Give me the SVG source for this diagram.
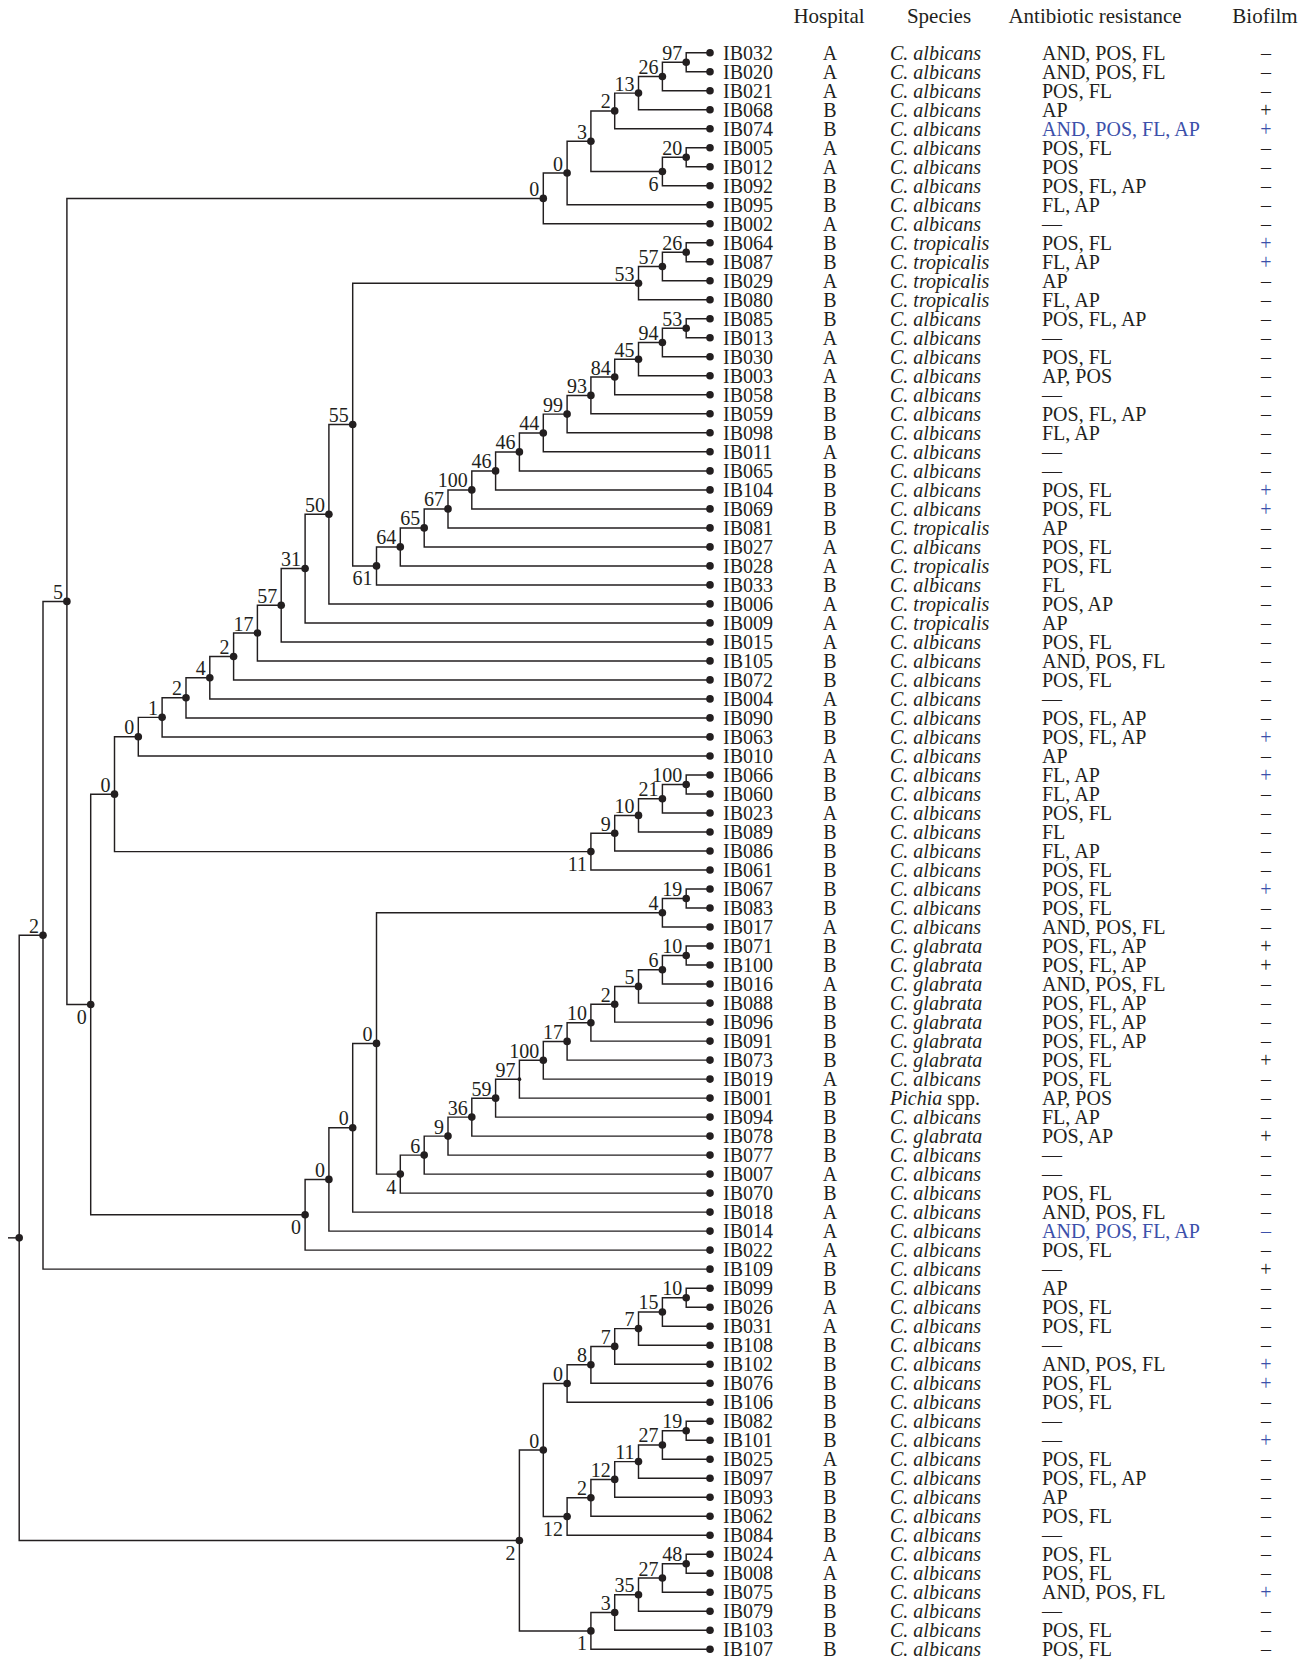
<svg xmlns="http://www.w3.org/2000/svg" width="1309" height="1661" viewBox="0 0 1309 1661">
<style>
text{font-family:"Liberation Serif","Times New Roman",serif;fill:#231f20}
.r text{font-size:20px}
.m{text-anchor:middle}
.i{font-style:italic}
.r text.b,.b{fill:#3c50aa}
.nl{font-size:20px;text-anchor:end}
.hd{font-size:21px;text-anchor:middle}
#connectors path{fill:none;stroke:#231f20;stroke-width:1.45}
circle{fill:#231f20}
</style>
<rect width="1309" height="1661" fill="#ffffff"/>
<g id="header">
<text class="hd" x="829" y="23">Hospital</text>
<text class="hd" x="939" y="23">Species</text>
<text class="hd" x="1095" y="23">Antibiotic resistance</text>
<text class="hd" x="1265" y="23">Biofilm</text>
</g>
<g id="connectors">
<path d="M710 52.7H686.2V71.7H710"/>
<path d="M686.2 62.2H662.4V90.7H710"/>
<path d="M662.4 76.45H638.5V109.7H710"/>
<path d="M638.5 93.1H614.7V128.7H710"/>
<path d="M710 147.7H686.2V166.7H710"/>
<path d="M686.2 157.2H662.4V185.7H710"/>
<path d="M614.7 110.9H590.9V171.45H662.4"/>
<path d="M590.9 141.2H567.1V204.8H710"/>
<path d="M567.1 173H543.3V223.8H710"/>
<path d="M710 242.8H686.2V261.8H710"/>
<path d="M686.2 252.3H662.4V280.8H710"/>
<path d="M662.4 266.55H638.5V299.8H710"/>
<path d="M710 318.8H686.2V337.8H710"/>
<path d="M686.2 328.3H662.4V356.8H710"/>
<path d="M662.4 342.55H638.5V375.8H710"/>
<path d="M638.5 359.2H614.7V394.8H710"/>
<path d="M614.7 377H590.9V413.8H710"/>
<path d="M590.9 395.4H567.1V432.8H710"/>
<path d="M567.1 414.1H543.3V451.8H710"/>
<path d="M543.3 432.95H519.4V470.9H710"/>
<path d="M519.4 451.9H495.6V489.9H710"/>
<path d="M495.6 470.9H471.8V508.9H710"/>
<path d="M471.8 489.9H448V527.9H710"/>
<path d="M448 508.9H424.2V546.9H710"/>
<path d="M424.2 527.9H400.3V565.9H710"/>
<path d="M400.3 546.9H376.5V584.9H710"/>
<path d="M638.5 283.2H352.7V565.9H376.5"/>
<path d="M352.7 424.55H328.9V603.9H710"/>
<path d="M328.9 514.2H305.1V622.9H710"/>
<path d="M305.1 568.55H281.2V641.9H710"/>
<path d="M281.2 605.2H257.4V660.9H710"/>
<path d="M257.4 633.05H233.6V679.9H710"/>
<path d="M233.6 656.5H209.8V698.9H710"/>
<path d="M209.8 677.7H186V717.9H710"/>
<path d="M186 697.8H162.1V736.9H710"/>
<path d="M162.1 717.35H138.3V756H710"/>
<path d="M710 775H686.2V794H710"/>
<path d="M686.2 784.5H662.4V813H710"/>
<path d="M662.4 798.75H638.5V832H710"/>
<path d="M638.5 815.4H614.7V851H710"/>
<path d="M614.7 833.2H590.9V870H710"/>
<path d="M138.3 736.7H114.5V851.6H590.9"/>
<path d="M710 889H686.2V908H710"/>
<path d="M686.2 898.5H662.4V927H710"/>
<path d="M710 946H686.2V965H710"/>
<path d="M686.2 955.5H662.4V984H710"/>
<path d="M662.4 969.75H638.5V1003.1H710"/>
<path d="M638.5 986.4H614.7V1022.1H710"/>
<path d="M614.7 1004.25H590.9V1041.1H710"/>
<path d="M590.9 1022.7H567.1V1060.1H710"/>
<path d="M567.1 1041.4H543.3V1079.1H710"/>
<path d="M543.3 1060.25H519.4V1098.1H710"/>
<path d="M519.4 1079.2H495.6V1117.1H710"/>
<path d="M495.6 1098.15H471.8V1136.1H710"/>
<path d="M471.8 1117.1H448V1155.1H710"/>
<path d="M448 1136.1H424.2V1174.1H710"/>
<path d="M424.2 1155.1H400.3V1193.1H710"/>
<path d="M662.4 912.75H376.5V1174.1H400.3"/>
<path d="M376.5 1043.4H352.7V1212.1H710"/>
<path d="M352.7 1127.75H328.9V1231.1H710"/>
<path d="M328.9 1179.4H305.1V1250.1H710"/>
<path d="M114.5 794.15H90.7V1214.75H305.1"/>
<path d="M543.3 198.4H66.9V1004.45H90.7"/>
<path d="M66.9 601.4H43V1269.1H710"/>
<path d="M710 1288.2H686.2V1307.2H710"/>
<path d="M686.2 1297.7H662.4V1326.2H710"/>
<path d="M662.4 1311.95H638.5V1345.2H710"/>
<path d="M638.5 1328.6H614.7V1364.2H710"/>
<path d="M614.7 1346.4H590.9V1383.2H710"/>
<path d="M590.9 1364.8H567.1V1402.2H710"/>
<path d="M710 1421.2H686.2V1440.2H710"/>
<path d="M686.2 1430.7H662.4V1459.2H710"/>
<path d="M662.4 1444.95H638.5V1478.2H710"/>
<path d="M638.5 1461.6H614.7V1497.2H710"/>
<path d="M614.7 1479.4H590.9V1516.2H710"/>
<path d="M590.9 1497.8H567.1V1535.2H710"/>
<path d="M567.1 1383.5H543.3V1516.5H567.1"/>
<path d="M710 1554.3H686.2V1573.3H710"/>
<path d="M686.2 1563.8H662.4V1592.3H710"/>
<path d="M662.4 1578.05H638.5V1611.3H710"/>
<path d="M638.5 1594.7H614.7V1630.3H710"/>
<path d="M614.7 1612.5H590.9V1649.3H710"/>
<path d="M543.3 1450H519.4V1630.9H590.9"/>
<path d="M43 935.25H19.2V1540.45H519.4"/>
<path d="M8 1237.85H19.2"/>
</g>
<g id="internal-nodes">
<g id="n97a"><circle cx="686.2" cy="62.2" r="3.8"/><text class="nl" x="682.2" y="59.7">97</text></g>
<g id="n26a"><circle cx="662.4" cy="76.45" r="3.8"/><text class="nl" x="658.4" y="73.95">26</text></g>
<g id="n13a"><circle cx="638.5" cy="93.1" r="3.8"/><text class="nl" x="634.5" y="90.6">13</text></g>
<g id="n2a"><circle cx="614.7" cy="110.9" r="3.8"/><text class="nl" x="610.7" y="108.4">2</text></g>
<g id="n20a"><circle cx="686.2" cy="157.2" r="3.8"/><text class="nl" x="682.2" y="154.7">20</text></g>
<g id="n6a"><circle cx="662.4" cy="171.45" r="3.8"/><text class="nl" x="658.4" y="190.95">6</text></g>
<g id="n3a"><circle cx="590.9" cy="141.2" r="3.8"/><text class="nl" x="586.9" y="138.7">3</text></g>
<g id="n0b"><circle cx="567.1" cy="173" r="3.8"/><text class="nl" x="563.1" y="170.5">0</text></g>
<g id="n0a"><circle cx="543.3" cy="198.4" r="3.8"/><text class="nl" x="539.3" y="195.9">0</text></g>
<g id="n26t"><circle cx="686.2" cy="252.3" r="3.8"/><text class="nl" x="682.2" y="249.8">26</text></g>
<g id="n57t"><circle cx="662.4" cy="266.55" r="3.8"/><text class="nl" x="658.4" y="264.05">57</text></g>
<g id="n53t"><circle cx="638.5" cy="283.2" r="3.8"/><text class="nl" x="634.5" y="280.7">53</text></g>
<g id="n53c"><circle cx="686.2" cy="328.3" r="3.8"/><text class="nl" x="682.2" y="325.8">53</text></g>
<g id="n94"><circle cx="662.4" cy="342.55" r="3.8"/><text class="nl" x="658.4" y="340.05">94</text></g>
<g id="n45"><circle cx="638.5" cy="359.2" r="3.8"/><text class="nl" x="634.5" y="356.7">45</text></g>
<g id="n84"><circle cx="614.7" cy="377" r="3.8"/><text class="nl" x="610.7" y="374.5">84</text></g>
<g id="n93"><circle cx="590.9" cy="395.4" r="3.8"/><text class="nl" x="586.9" y="392.9">93</text></g>
<g id="n99"><circle cx="567.1" cy="414.1" r="3.8"/><text class="nl" x="563.1" y="411.6">99</text></g>
<g id="n44"><circle cx="543.3" cy="432.95" r="3.8"/><text class="nl" x="539.3" y="430.45">44</text></g>
<g id="n46a"><circle cx="519.4" cy="451.9" r="3.8"/><text class="nl" x="515.4" y="449.4">46</text></g>
<g id="n46b"><circle cx="495.6" cy="470.9" r="3.8"/><text class="nl" x="491.6" y="468.4">46</text></g>
<g id="n100a"><circle cx="471.8" cy="489.9" r="3.8"/><text class="nl" x="467.8" y="487.4">100</text></g>
<g id="n67"><circle cx="448" cy="508.9" r="3.8"/><text class="nl" x="444" y="506.4">67</text></g>
<g id="n65"><circle cx="424.2" cy="527.9" r="3.8"/><text class="nl" x="420.2" y="525.4">65</text></g>
<g id="n64"><circle cx="400.3" cy="546.9" r="3.8"/><text class="nl" x="396.3" y="544.4">64</text></g>
<g id="n61"><circle cx="376.5" cy="565.9" r="3.8"/><text class="nl" x="372.5" y="585.4">61</text></g>
<g id="n55"><circle cx="352.7" cy="424.55" r="3.8"/><text class="nl" x="348.7" y="422.05">55</text></g>
<g id="n50"><circle cx="328.9" cy="514.2" r="3.8"/><text class="nl" x="324.9" y="511.7">50</text></g>
<g id="n31"><circle cx="305.1" cy="568.55" r="3.8"/><text class="nl" x="301.1" y="566.05">31</text></g>
<g id="n57b"><circle cx="281.2" cy="605.2" r="3.8"/><text class="nl" x="277.2" y="602.7">57</text></g>
<g id="n17a"><circle cx="257.4" cy="633.05" r="3.8"/><text class="nl" x="253.4" y="630.55">17</text></g>
<g id="n2b"><circle cx="233.6" cy="656.5" r="3.8"/><text class="nl" x="229.6" y="654">2</text></g>
<g id="n4a"><circle cx="209.8" cy="677.7" r="3.8"/><text class="nl" x="205.8" y="675.2">4</text></g>
<g id="n2c"><circle cx="186" cy="697.8" r="3.8"/><text class="nl" x="182" y="695.3">2</text></g>
<g id="n1a"><circle cx="162.1" cy="717.35" r="3.8"/><text class="nl" x="158.1" y="714.85">1</text></g>
<g id="n0c"><circle cx="138.3" cy="736.7" r="3.8"/><text class="nl" x="134.3" y="734.2">0</text></g>
<g id="n100b"><circle cx="686.2" cy="784.5" r="3.8"/><text class="nl" x="682.2" y="782">100</text></g>
<g id="n21"><circle cx="662.4" cy="798.75" r="3.8"/><text class="nl" x="658.4" y="796.25">21</text></g>
<g id="n10a"><circle cx="638.5" cy="815.4" r="3.8"/><text class="nl" x="634.5" y="812.9">10</text></g>
<g id="n9a"><circle cx="614.7" cy="833.2" r="3.8"/><text class="nl" x="610.7" y="830.7">9</text></g>
<g id="n11a"><circle cx="590.9" cy="851.6" r="3.8"/><text class="nl" x="586.9" y="871.1">11</text></g>
<g id="n0d"><circle cx="114.5" cy="794.15" r="3.8"/><text class="nl" x="110.5" y="791.65">0</text></g>
<g id="n19a"><circle cx="686.2" cy="898.5" r="3.8"/><text class="nl" x="682.2" y="896">19</text></g>
<g id="n4t"><circle cx="662.4" cy="912.75" r="3.8"/><text class="nl" x="658.4" y="910.25">4</text></g>
<g id="n10h"><circle cx="686.2" cy="955.5" r="3.8"/><text class="nl" x="682.2" y="953">10</text></g>
<g id="n6h"><circle cx="662.4" cy="969.75" r="3.8"/><text class="nl" x="658.4" y="967.25">6</text></g>
<g id="n5g"><circle cx="638.5" cy="986.4" r="3.8"/><text class="nl" x="634.5" y="983.9">5</text></g>
<g id="n2g"><circle cx="614.7" cy="1004.25" r="3.8"/><text class="nl" x="610.7" y="1001.75">2</text></g>
<g id="n10g"><circle cx="590.9" cy="1022.7" r="3.8"/><text class="nl" x="586.9" y="1020.2">10</text></g>
<g id="n17g"><circle cx="567.1" cy="1041.4" r="3.8"/><text class="nl" x="563.1" y="1038.9">17</text></g>
<g id="n100g"><circle cx="543.3" cy="1060.25" r="3.8"/><text class="nl" x="539.3" y="1057.75">100</text></g>
<g id="n97g"><circle cx="519.4" cy="1079.2" r="1.9"/><text class="nl" x="515.4" y="1076.7">97</text></g>
<g id="n59"><circle cx="495.6" cy="1098.15" r="3.8"/><text class="nl" x="491.6" y="1095.65">59</text></g>
<g id="n36"><circle cx="471.8" cy="1117.1" r="3.8"/><text class="nl" x="467.8" y="1114.6">36</text></g>
<g id="n9g"><circle cx="448" cy="1136.1" r="3.8"/><text class="nl" x="444" y="1133.6">9</text></g>
<g id="n6g"><circle cx="424.2" cy="1155.1" r="3.8"/><text class="nl" x="420.2" y="1152.6">6</text></g>
<g id="n4b"><circle cx="400.3" cy="1174.1" r="3.8"/><text class="nl" x="396.3" y="1193.6">4</text></g>
<g id="n0m1"><circle cx="376.5" cy="1043.4" r="3.8"/><text class="nl" x="372.5" y="1040.9">0</text></g>
<g id="n0m2"><circle cx="352.7" cy="1127.75" r="3.8"/><text class="nl" x="348.7" y="1125.25">0</text></g>
<g id="n0m3"><circle cx="328.9" cy="1179.4" r="3.8"/><text class="nl" x="324.9" y="1176.9">0</text></g>
<g id="n0m4"><circle cx="305.1" cy="1214.75" r="3.8"/><text class="nl" x="301.1" y="1234.25">0</text></g>
<g id="n0e"><circle cx="90.7" cy="1004.45" r="3.8"/><text class="nl" x="86.7" y="1023.95">0</text></g>
<g id="n5top"><circle cx="66.9" cy="601.4" r="3.8"/><text class="nl" x="62.9" y="598.9">5</text></g>
<g id="n2top"><circle cx="43" cy="935.25" r="3.8"/><text class="nl" x="39" y="932.75">2</text></g>
<g id="n10b"><circle cx="686.2" cy="1297.7" r="3.8"/><text class="nl" x="682.2" y="1295.2">10</text></g>
<g id="n15"><circle cx="662.4" cy="1311.95" r="3.8"/><text class="nl" x="658.4" y="1309.45">15</text></g>
<g id="n7a"><circle cx="638.5" cy="1328.6" r="3.8"/><text class="nl" x="634.5" y="1326.1">7</text></g>
<g id="n7b"><circle cx="614.7" cy="1346.4" r="3.8"/><text class="nl" x="610.7" y="1343.9">7</text></g>
<g id="n8"><circle cx="590.9" cy="1364.8" r="3.8"/><text class="nl" x="586.9" y="1362.3">8</text></g>
<g id="n0f1"><circle cx="567.1" cy="1383.5" r="3.8"/><text class="nl" x="563.1" y="1381">0</text></g>
<g id="n19b"><circle cx="686.2" cy="1430.7" r="3.8"/><text class="nl" x="682.2" y="1428.2">19</text></g>
<g id="n27a"><circle cx="662.4" cy="1444.95" r="3.8"/><text class="nl" x="658.4" y="1442.45">27</text></g>
<g id="n11b"><circle cx="638.5" cy="1461.6" r="3.8"/><text class="nl" x="634.5" y="1459.1">11</text></g>
<g id="n12a"><circle cx="614.7" cy="1479.4" r="3.8"/><text class="nl" x="610.7" y="1476.9">12</text></g>
<g id="n2d"><circle cx="590.9" cy="1497.8" r="3.8"/><text class="nl" x="586.9" y="1495.3">2</text></g>
<g id="n12b"><circle cx="567.1" cy="1516.5" r="3.8"/><text class="nl" x="563.1" y="1536">12</text></g>
<g id="n0f"><circle cx="543.3" cy="1450" r="3.8"/><text class="nl" x="539.3" y="1447.5">0</text></g>
<g id="n48"><circle cx="686.2" cy="1563.8" r="3.8"/><text class="nl" x="682.2" y="1561.3">48</text></g>
<g id="n27b"><circle cx="662.4" cy="1578.05" r="3.8"/><text class="nl" x="658.4" y="1575.55">27</text></g>
<g id="n35"><circle cx="638.5" cy="1594.7" r="3.8"/><text class="nl" x="634.5" y="1592.2">35</text></g>
<g id="n3b"><circle cx="614.7" cy="1612.5" r="3.8"/><text class="nl" x="610.7" y="1610">3</text></g>
<g id="n1b"><circle cx="590.9" cy="1630.9" r="3.8"/><text class="nl" x="586.9" y="1650.4">1</text></g>
<g id="n2bot"><circle cx="519.4" cy="1540.45" r="3.8"/><text class="nl" x="515.4" y="1559.95">2</text></g>
<g id="root"><circle cx="19.2" cy="1237.85" r="3.8"/></g>
</g>
<g id="leaves">
<g id="IB032" class="r" transform="translate(0 59.7)"><circle cx="710" cy="-7" r="3.8"/><text x="723">IB032</text><text class="m" x="830">A</text><text class="i" x="890">C. albicans</text><text x="1042">AND, POS, FL</text><text class="m" x="1266">–</text></g>
<g id="IB020" class="r" transform="translate(0 78.7)"><circle cx="710" cy="-7" r="3.8"/><text x="723">IB020</text><text class="m" x="830">A</text><text class="i" x="890">C. albicans</text><text x="1042">AND, POS, FL</text><text class="m" x="1266">–</text></g>
<g id="IB021" class="r" transform="translate(0 97.7)"><circle cx="710" cy="-7" r="3.8"/><text x="723">IB021</text><text class="m" x="830">A</text><text class="i" x="890">C. albicans</text><text x="1042">POS, FL</text><text class="m" x="1266">–</text></g>
<g id="IB068" class="r" transform="translate(0 116.7)"><circle cx="710" cy="-7" r="3.8"/><text x="723">IB068</text><text class="m" x="830">B</text><text class="i" x="890">C. albicans</text><text x="1042">AP</text><text class="m" x="1266">+</text></g>
<g id="IB074" class="r" transform="translate(0 135.7)"><circle cx="710" cy="-7" r="3.8"/><text x="723">IB074</text><text class="m" x="830">B</text><text class="i" x="890">C. albicans</text><text class="b" x="1042">AND, POS, FL, AP</text><text class="m b" x="1266">+</text></g>
<g id="IB005" class="r" transform="translate(0 154.7)"><circle cx="710" cy="-7" r="3.8"/><text x="723">IB005</text><text class="m" x="830">A</text><text class="i" x="890">C. albicans</text><text x="1042">POS, FL</text><text class="m" x="1266">–</text></g>
<g id="IB012" class="r" transform="translate(0 173.7)"><circle cx="710" cy="-7" r="3.8"/><text x="723">IB012</text><text class="m" x="830">A</text><text class="i" x="890">C. albicans</text><text x="1042">POS</text><text class="m" x="1266">–</text></g>
<g id="IB092" class="r" transform="translate(0 192.7)"><circle cx="710" cy="-7" r="3.8"/><text x="723">IB092</text><text class="m" x="830">B</text><text class="i" x="890">C. albicans</text><text x="1042">POS, FL, AP</text><text class="m" x="1266">–</text></g>
<g id="IB095" class="r" transform="translate(0 211.8)"><circle cx="710" cy="-7" r="3.8"/><text x="723">IB095</text><text class="m" x="830">B</text><text class="i" x="890">C. albicans</text><text x="1042">FL, AP</text><text class="m" x="1266">–</text></g>
<g id="IB002" class="r" transform="translate(0 230.8)"><circle cx="710" cy="-7" r="3.8"/><text x="723">IB002</text><text class="m" x="830">A</text><text class="i" x="890">C. albicans</text><text x="1042">—</text><text class="m" x="1266">–</text></g>
<g id="IB064" class="r" transform="translate(0 249.8)"><circle cx="710" cy="-7" r="3.8"/><text x="723">IB064</text><text class="m" x="830">B</text><text class="i" x="890">C. tropicalis</text><text x="1042">POS, FL</text><text class="m b" x="1266">+</text></g>
<g id="IB087" class="r" transform="translate(0 268.8)"><circle cx="710" cy="-7" r="3.8"/><text x="723">IB087</text><text class="m" x="830">B</text><text class="i" x="890">C. tropicalis</text><text x="1042">FL, AP</text><text class="m b" x="1266">+</text></g>
<g id="IB029" class="r" transform="translate(0 287.8)"><circle cx="710" cy="-7" r="3.8"/><text x="723">IB029</text><text class="m" x="830">A</text><text class="i" x="890">C. tropicalis</text><text x="1042">AP</text><text class="m" x="1266">–</text></g>
<g id="IB080" class="r" transform="translate(0 306.8)"><circle cx="710" cy="-7" r="3.8"/><text x="723">IB080</text><text class="m" x="830">B</text><text class="i" x="890">C. tropicalis</text><text x="1042">FL, AP</text><text class="m" x="1266">–</text></g>
<g id="IB085" class="r" transform="translate(0 325.8)"><circle cx="710" cy="-7" r="3.8"/><text x="723">IB085</text><text class="m" x="830">B</text><text class="i" x="890">C. albicans</text><text x="1042">POS, FL, AP</text><text class="m" x="1266">–</text></g>
<g id="IB013" class="r" transform="translate(0 344.8)"><circle cx="710" cy="-7" r="3.8"/><text x="723">IB013</text><text class="m" x="830">A</text><text class="i" x="890">C. albicans</text><text x="1042">—</text><text class="m" x="1266">–</text></g>
<g id="IB030" class="r" transform="translate(0 363.8)"><circle cx="710" cy="-7" r="3.8"/><text x="723">IB030</text><text class="m" x="830">A</text><text class="i" x="890">C. albicans</text><text x="1042">POS, FL</text><text class="m" x="1266">–</text></g>
<g id="IB003" class="r" transform="translate(0 382.8)"><circle cx="710" cy="-7" r="3.8"/><text x="723">IB003</text><text class="m" x="830">A</text><text class="i" x="890">C. albicans</text><text x="1042">AP, POS</text><text class="m" x="1266">–</text></g>
<g id="IB058" class="r" transform="translate(0 401.8)"><circle cx="710" cy="-7" r="3.8"/><text x="723">IB058</text><text class="m" x="830">B</text><text class="i" x="890">C. albicans</text><text x="1042">—</text><text class="m" x="1266">–</text></g>
<g id="IB059" class="r" transform="translate(0 420.8)"><circle cx="710" cy="-7" r="3.8"/><text x="723">IB059</text><text class="m" x="830">B</text><text class="i" x="890">C. albicans</text><text x="1042">POS, FL, AP</text><text class="m" x="1266">–</text></g>
<g id="IB098" class="r" transform="translate(0 439.8)"><circle cx="710" cy="-7" r="3.8"/><text x="723">IB098</text><text class="m" x="830">B</text><text class="i" x="890">C. albicans</text><text x="1042">FL, AP</text><text class="m" x="1266">–</text></g>
<g id="IB011" class="r" transform="translate(0 458.8)"><circle cx="710" cy="-7" r="3.8"/><text x="723">IB011</text><text class="m" x="830">A</text><text class="i" x="890">C. albicans</text><text x="1042">—</text><text class="m" x="1266">–</text></g>
<g id="IB065" class="r" transform="translate(0 477.9)"><circle cx="710" cy="-7" r="3.8"/><text x="723">IB065</text><text class="m" x="830">B</text><text class="i" x="890">C. albicans</text><text x="1042">—</text><text class="m" x="1266">–</text></g>
<g id="IB104" class="r" transform="translate(0 496.9)"><circle cx="710" cy="-7" r="3.8"/><text x="723">IB104</text><text class="m" x="830">B</text><text class="i" x="890">C. albicans</text><text x="1042">POS, FL</text><text class="m b" x="1266">+</text></g>
<g id="IB069" class="r" transform="translate(0 515.9)"><circle cx="710" cy="-7" r="3.8"/><text x="723">IB069</text><text class="m" x="830">B</text><text class="i" x="890">C. albicans</text><text x="1042">POS, FL</text><text class="m b" x="1266">+</text></g>
<g id="IB081" class="r" transform="translate(0 534.9)"><circle cx="710" cy="-7" r="3.8"/><text x="723">IB081</text><text class="m" x="830">B</text><text class="i" x="890">C. tropicalis</text><text x="1042">AP</text><text class="m" x="1266">–</text></g>
<g id="IB027" class="r" transform="translate(0 553.9)"><circle cx="710" cy="-7" r="3.8"/><text x="723">IB027</text><text class="m" x="830">A</text><text class="i" x="890">C. albicans</text><text x="1042">POS, FL</text><text class="m" x="1266">–</text></g>
<g id="IB028" class="r" transform="translate(0 572.9)"><circle cx="710" cy="-7" r="3.8"/><text x="723">IB028</text><text class="m" x="830">A</text><text class="i" x="890">C. tropicalis</text><text x="1042">POS, FL</text><text class="m" x="1266">–</text></g>
<g id="IB033" class="r" transform="translate(0 591.9)"><circle cx="710" cy="-7" r="3.8"/><text x="723">IB033</text><text class="m" x="830">B</text><text class="i" x="890">C. albicans</text><text x="1042">FL</text><text class="m" x="1266">–</text></g>
<g id="IB006" class="r" transform="translate(0 610.9)"><circle cx="710" cy="-7" r="3.8"/><text x="723">IB006</text><text class="m" x="830">A</text><text class="i" x="890">C. tropicalis</text><text x="1042">POS, AP</text><text class="m" x="1266">–</text></g>
<g id="IB009" class="r" transform="translate(0 629.9)"><circle cx="710" cy="-7" r="3.8"/><text x="723">IB009</text><text class="m" x="830">A</text><text class="i" x="890">C. tropicalis</text><text x="1042">AP</text><text class="m" x="1266">–</text></g>
<g id="IB015" class="r" transform="translate(0 648.9)"><circle cx="710" cy="-7" r="3.8"/><text x="723">IB015</text><text class="m" x="830">A</text><text class="i" x="890">C. albicans</text><text x="1042">POS, FL</text><text class="m" x="1266">–</text></g>
<g id="IB105" class="r" transform="translate(0 667.9)"><circle cx="710" cy="-7" r="3.8"/><text x="723">IB105</text><text class="m" x="830">B</text><text class="i" x="890">C. albicans</text><text x="1042">AND, POS, FL</text><text class="m" x="1266">–</text></g>
<g id="IB072" class="r" transform="translate(0 686.9)"><circle cx="710" cy="-7" r="3.8"/><text x="723">IB072</text><text class="m" x="830">B</text><text class="i" x="890">C. albicans</text><text x="1042">POS, FL</text><text class="m" x="1266">–</text></g>
<g id="IB004" class="r" transform="translate(0 705.9)"><circle cx="710" cy="-7" r="3.8"/><text x="723">IB004</text><text class="m" x="830">A</text><text class="i" x="890">C. albicans</text><text x="1042">—</text><text class="m" x="1266">–</text></g>
<g id="IB090" class="r" transform="translate(0 724.9)"><circle cx="710" cy="-7" r="3.8"/><text x="723">IB090</text><text class="m" x="830">B</text><text class="i" x="890">C. albicans</text><text x="1042">POS, FL, AP</text><text class="m" x="1266">–</text></g>
<g id="IB063" class="r" transform="translate(0 743.9)"><circle cx="710" cy="-7" r="3.8"/><text x="723">IB063</text><text class="m" x="830">B</text><text class="i" x="890">C. albicans</text><text x="1042">POS, FL, AP</text><text class="m b" x="1266">+</text></g>
<g id="IB010" class="r" transform="translate(0 763)"><circle cx="710" cy="-7" r="3.8"/><text x="723">IB010</text><text class="m" x="830">A</text><text class="i" x="890">C. albicans</text><text x="1042">AP</text><text class="m" x="1266">–</text></g>
<g id="IB066" class="r" transform="translate(0 782)"><circle cx="710" cy="-7" r="3.8"/><text x="723">IB066</text><text class="m" x="830">B</text><text class="i" x="890">C. albicans</text><text x="1042">FL, AP</text><text class="m b" x="1266">+</text></g>
<g id="IB060" class="r" transform="translate(0 801)"><circle cx="710" cy="-7" r="3.8"/><text x="723">IB060</text><text class="m" x="830">B</text><text class="i" x="890">C. albicans</text><text x="1042">FL, AP</text><text class="m" x="1266">–</text></g>
<g id="IB023" class="r" transform="translate(0 820)"><circle cx="710" cy="-7" r="3.8"/><text x="723">IB023</text><text class="m" x="830">A</text><text class="i" x="890">C. albicans</text><text x="1042">POS, FL</text><text class="m" x="1266">–</text></g>
<g id="IB089" class="r" transform="translate(0 839)"><circle cx="710" cy="-7" r="3.8"/><text x="723">IB089</text><text class="m" x="830">B</text><text class="i" x="890">C. albicans</text><text x="1042">FL</text><text class="m" x="1266">–</text></g>
<g id="IB086" class="r" transform="translate(0 858)"><circle cx="710" cy="-7" r="3.8"/><text x="723">IB086</text><text class="m" x="830">B</text><text class="i" x="890">C. albicans</text><text x="1042">FL, AP</text><text class="m" x="1266">–</text></g>
<g id="IB061" class="r" transform="translate(0 877)"><circle cx="710" cy="-7" r="3.8"/><text x="723">IB061</text><text class="m" x="830">B</text><text class="i" x="890">C. albicans</text><text x="1042">POS, FL</text><text class="m" x="1266">–</text></g>
<g id="IB067" class="r" transform="translate(0 896)"><circle cx="710" cy="-7" r="3.8"/><text x="723">IB067</text><text class="m" x="830">B</text><text class="i" x="890">C. albicans</text><text x="1042">POS, FL</text><text class="m b" x="1266">+</text></g>
<g id="IB083" class="r" transform="translate(0 915)"><circle cx="710" cy="-7" r="3.8"/><text x="723">IB083</text><text class="m" x="830">B</text><text class="i" x="890">C. albicans</text><text x="1042">POS, FL</text><text class="m" x="1266">–</text></g>
<g id="IB017" class="r" transform="translate(0 934)"><circle cx="710" cy="-7" r="3.8"/><text x="723">IB017</text><text class="m" x="830">A</text><text class="i" x="890">C. albicans</text><text x="1042">AND, POS, FL</text><text class="m" x="1266">–</text></g>
<g id="IB071" class="r" transform="translate(0 953)"><circle cx="710" cy="-7" r="3.8"/><text x="723">IB071</text><text class="m" x="830">B</text><text class="i" x="890">C. glabrata</text><text x="1042">POS, FL, AP</text><text class="m" x="1266">+</text></g>
<g id="IB100" class="r" transform="translate(0 972)"><circle cx="710" cy="-7" r="3.8"/><text x="723">IB100</text><text class="m" x="830">B</text><text class="i" x="890">C. glabrata</text><text x="1042">POS, FL, AP</text><text class="m" x="1266">+</text></g>
<g id="IB016" class="r" transform="translate(0 991)"><circle cx="710" cy="-7" r="3.8"/><text x="723">IB016</text><text class="m" x="830">A</text><text class="i" x="890">C. glabrata</text><text x="1042">AND, POS, FL</text><text class="m" x="1266">–</text></g>
<g id="IB088" class="r" transform="translate(0 1010.1)"><circle cx="710" cy="-7" r="3.8"/><text x="723">IB088</text><text class="m" x="830">B</text><text class="i" x="890">C. glabrata</text><text x="1042">POS, FL, AP</text><text class="m" x="1266">–</text></g>
<g id="IB096" class="r" transform="translate(0 1029.1)"><circle cx="710" cy="-7" r="3.8"/><text x="723">IB096</text><text class="m" x="830">B</text><text class="i" x="890">C. glabrata</text><text x="1042">POS, FL, AP</text><text class="m" x="1266">–</text></g>
<g id="IB091" class="r" transform="translate(0 1048.1)"><circle cx="710" cy="-7" r="3.8"/><text x="723">IB091</text><text class="m" x="830">B</text><text class="i" x="890">C. glabrata</text><text x="1042">POS, FL, AP</text><text class="m" x="1266">–</text></g>
<g id="IB073" class="r" transform="translate(0 1067.1)"><circle cx="710" cy="-7" r="3.8"/><text x="723">IB073</text><text class="m" x="830">B</text><text class="i" x="890">C. glabrata</text><text x="1042">POS, FL</text><text class="m" x="1266">+</text></g>
<g id="IB019" class="r" transform="translate(0 1086.1)"><circle cx="710" cy="-7" r="3.8"/><text x="723">IB019</text><text class="m" x="830">A</text><text class="i" x="890">C. albicans</text><text x="1042">POS, FL</text><text class="m" x="1266">–</text></g>
<g id="IB001" class="r" transform="translate(0 1105.1)"><circle cx="710" cy="-7" r="3.8"/><text x="723">IB001</text><text class="m" x="830">B</text><text x="890"><tspan class="i">Pichia</tspan> spp.</text><text x="1042">AP, POS</text><text class="m" x="1266">–</text></g>
<g id="IB094" class="r" transform="translate(0 1124.1)"><circle cx="710" cy="-7" r="3.8"/><text x="723">IB094</text><text class="m" x="830">B</text><text class="i" x="890">C. albicans</text><text x="1042">FL, AP</text><text class="m" x="1266">–</text></g>
<g id="IB078" class="r" transform="translate(0 1143.1)"><circle cx="710" cy="-7" r="3.8"/><text x="723">IB078</text><text class="m" x="830">B</text><text class="i" x="890">C. glabrata</text><text x="1042">POS, AP</text><text class="m" x="1266">+</text></g>
<g id="IB077" class="r" transform="translate(0 1162.1)"><circle cx="710" cy="-7" r="3.8"/><text x="723">IB077</text><text class="m" x="830">B</text><text class="i" x="890">C. albicans</text><text x="1042">—</text><text class="m" x="1266">–</text></g>
<g id="IB007" class="r" transform="translate(0 1181.1)"><circle cx="710" cy="-7" r="3.8"/><text x="723">IB007</text><text class="m" x="830">A</text><text class="i" x="890">C. albicans</text><text x="1042">—</text><text class="m" x="1266">–</text></g>
<g id="IB070" class="r" transform="translate(0 1200.1)"><circle cx="710" cy="-7" r="3.8"/><text x="723">IB070</text><text class="m" x="830">B</text><text class="i" x="890">C. albicans</text><text x="1042">POS, FL</text><text class="m" x="1266">–</text></g>
<g id="IB018" class="r" transform="translate(0 1219.1)"><circle cx="710" cy="-7" r="3.8"/><text x="723">IB018</text><text class="m" x="830">A</text><text class="i" x="890">C. albicans</text><text x="1042">AND, POS, FL</text><text class="m" x="1266">–</text></g>
<g id="IB014" class="r" transform="translate(0 1238.1)"><circle cx="710" cy="-7" r="3.8"/><text x="723">IB014</text><text class="m" x="830">A</text><text class="i" x="890">C. albicans</text><text class="b" x="1042">AND, POS, FL, AP</text><text class="m b" x="1266">–</text></g>
<g id="IB022" class="r" transform="translate(0 1257.1)"><circle cx="710" cy="-7" r="3.8"/><text x="723">IB022</text><text class="m" x="830">A</text><text class="i" x="890">C. albicans</text><text x="1042">POS, FL</text><text class="m" x="1266">–</text></g>
<g id="IB109" class="r" transform="translate(0 1276.1)"><circle cx="710" cy="-7" r="3.8"/><text x="723">IB109</text><text class="m" x="830">B</text><text class="i" x="890">C. albicans</text><text x="1042">—</text><text class="m" x="1266">+</text></g>
<g id="IB099" class="r" transform="translate(0 1295.2)"><circle cx="710" cy="-7" r="3.8"/><text x="723">IB099</text><text class="m" x="830">B</text><text class="i" x="890">C. albicans</text><text x="1042">AP</text><text class="m" x="1266">–</text></g>
<g id="IB026" class="r" transform="translate(0 1314.2)"><circle cx="710" cy="-7" r="3.8"/><text x="723">IB026</text><text class="m" x="830">A</text><text class="i" x="890">C. albicans</text><text x="1042">POS, FL</text><text class="m" x="1266">–</text></g>
<g id="IB031" class="r" transform="translate(0 1333.2)"><circle cx="710" cy="-7" r="3.8"/><text x="723">IB031</text><text class="m" x="830">A</text><text class="i" x="890">C. albicans</text><text x="1042">POS, FL</text><text class="m" x="1266">–</text></g>
<g id="IB108" class="r" transform="translate(0 1352.2)"><circle cx="710" cy="-7" r="3.8"/><text x="723">IB108</text><text class="m" x="830">B</text><text class="i" x="890">C. albicans</text><text x="1042">—</text><text class="m" x="1266">–</text></g>
<g id="IB102" class="r" transform="translate(0 1371.2)"><circle cx="710" cy="-7" r="3.8"/><text x="723">IB102</text><text class="m" x="830">B</text><text class="i" x="890">C. albicans</text><text x="1042">AND, POS, FL</text><text class="m b" x="1266">+</text></g>
<g id="IB076" class="r" transform="translate(0 1390.2)"><circle cx="710" cy="-7" r="3.8"/><text x="723">IB076</text><text class="m" x="830">B</text><text class="i" x="890">C. albicans</text><text x="1042">POS, FL</text><text class="m b" x="1266">+</text></g>
<g id="IB106" class="r" transform="translate(0 1409.2)"><circle cx="710" cy="-7" r="3.8"/><text x="723">IB106</text><text class="m" x="830">B</text><text class="i" x="890">C. albicans</text><text x="1042">POS, FL</text><text class="m" x="1266">–</text></g>
<g id="IB082" class="r" transform="translate(0 1428.2)"><circle cx="710" cy="-7" r="3.8"/><text x="723">IB082</text><text class="m" x="830">B</text><text class="i" x="890">C. albicans</text><text x="1042">—</text><text class="m" x="1266">–</text></g>
<g id="IB101" class="r" transform="translate(0 1447.2)"><circle cx="710" cy="-7" r="3.8"/><text x="723">IB101</text><text class="m" x="830">B</text><text class="i" x="890">C. albicans</text><text x="1042">—</text><text class="m b" x="1266">+</text></g>
<g id="IB025" class="r" transform="translate(0 1466.2)"><circle cx="710" cy="-7" r="3.8"/><text x="723">IB025</text><text class="m" x="830">A</text><text class="i" x="890">C. albicans</text><text x="1042">POS, FL</text><text class="m" x="1266">–</text></g>
<g id="IB097" class="r" transform="translate(0 1485.2)"><circle cx="710" cy="-7" r="3.8"/><text x="723">IB097</text><text class="m" x="830">B</text><text class="i" x="890">C. albicans</text><text x="1042">POS, FL, AP</text><text class="m" x="1266">–</text></g>
<g id="IB093" class="r" transform="translate(0 1504.2)"><circle cx="710" cy="-7" r="3.8"/><text x="723">IB093</text><text class="m" x="830">B</text><text class="i" x="890">C. albicans</text><text x="1042">AP</text><text class="m" x="1266">–</text></g>
<g id="IB062" class="r" transform="translate(0 1523.2)"><circle cx="710" cy="-7" r="3.8"/><text x="723">IB062</text><text class="m" x="830">B</text><text class="i" x="890">C. albicans</text><text x="1042">POS, FL</text><text class="m" x="1266">–</text></g>
<g id="IB084" class="r" transform="translate(0 1542.2)"><circle cx="710" cy="-7" r="3.8"/><text x="723">IB084</text><text class="m" x="830">B</text><text class="i" x="890">C. albicans</text><text x="1042">—</text><text class="m" x="1266">–</text></g>
<g id="IB024" class="r" transform="translate(0 1561.3)"><circle cx="710" cy="-7" r="3.8"/><text x="723">IB024</text><text class="m" x="830">A</text><text class="i" x="890">C. albicans</text><text x="1042">POS, FL</text><text class="m" x="1266">–</text></g>
<g id="IB008" class="r" transform="translate(0 1580.3)"><circle cx="710" cy="-7" r="3.8"/><text x="723">IB008</text><text class="m" x="830">A</text><text class="i" x="890">C. albicans</text><text x="1042">POS, FL</text><text class="m" x="1266">–</text></g>
<g id="IB075" class="r" transform="translate(0 1599.3)"><circle cx="710" cy="-7" r="3.8"/><text x="723">IB075</text><text class="m" x="830">B</text><text class="i" x="890">C. albicans</text><text x="1042">AND, POS, FL</text><text class="m b" x="1266">+</text></g>
<g id="IB079" class="r" transform="translate(0 1618.3)"><circle cx="710" cy="-7" r="3.8"/><text x="723">IB079</text><text class="m" x="830">B</text><text class="i" x="890">C. albicans</text><text x="1042">—</text><text class="m" x="1266">–</text></g>
<g id="IB103" class="r" transform="translate(0 1637.3)"><circle cx="710" cy="-7" r="3.8"/><text x="723">IB103</text><text class="m" x="830">B</text><text class="i" x="890">C. albicans</text><text x="1042">POS, FL</text><text class="m" x="1266">–</text></g>
<g id="IB107" class="r" transform="translate(0 1656.3)"><circle cx="710" cy="-7" r="3.8"/><text x="723">IB107</text><text class="m" x="830">B</text><text class="i" x="890">C. albicans</text><text x="1042">POS, FL</text><text class="m" x="1266">–</text></g>
</g>
</svg>
